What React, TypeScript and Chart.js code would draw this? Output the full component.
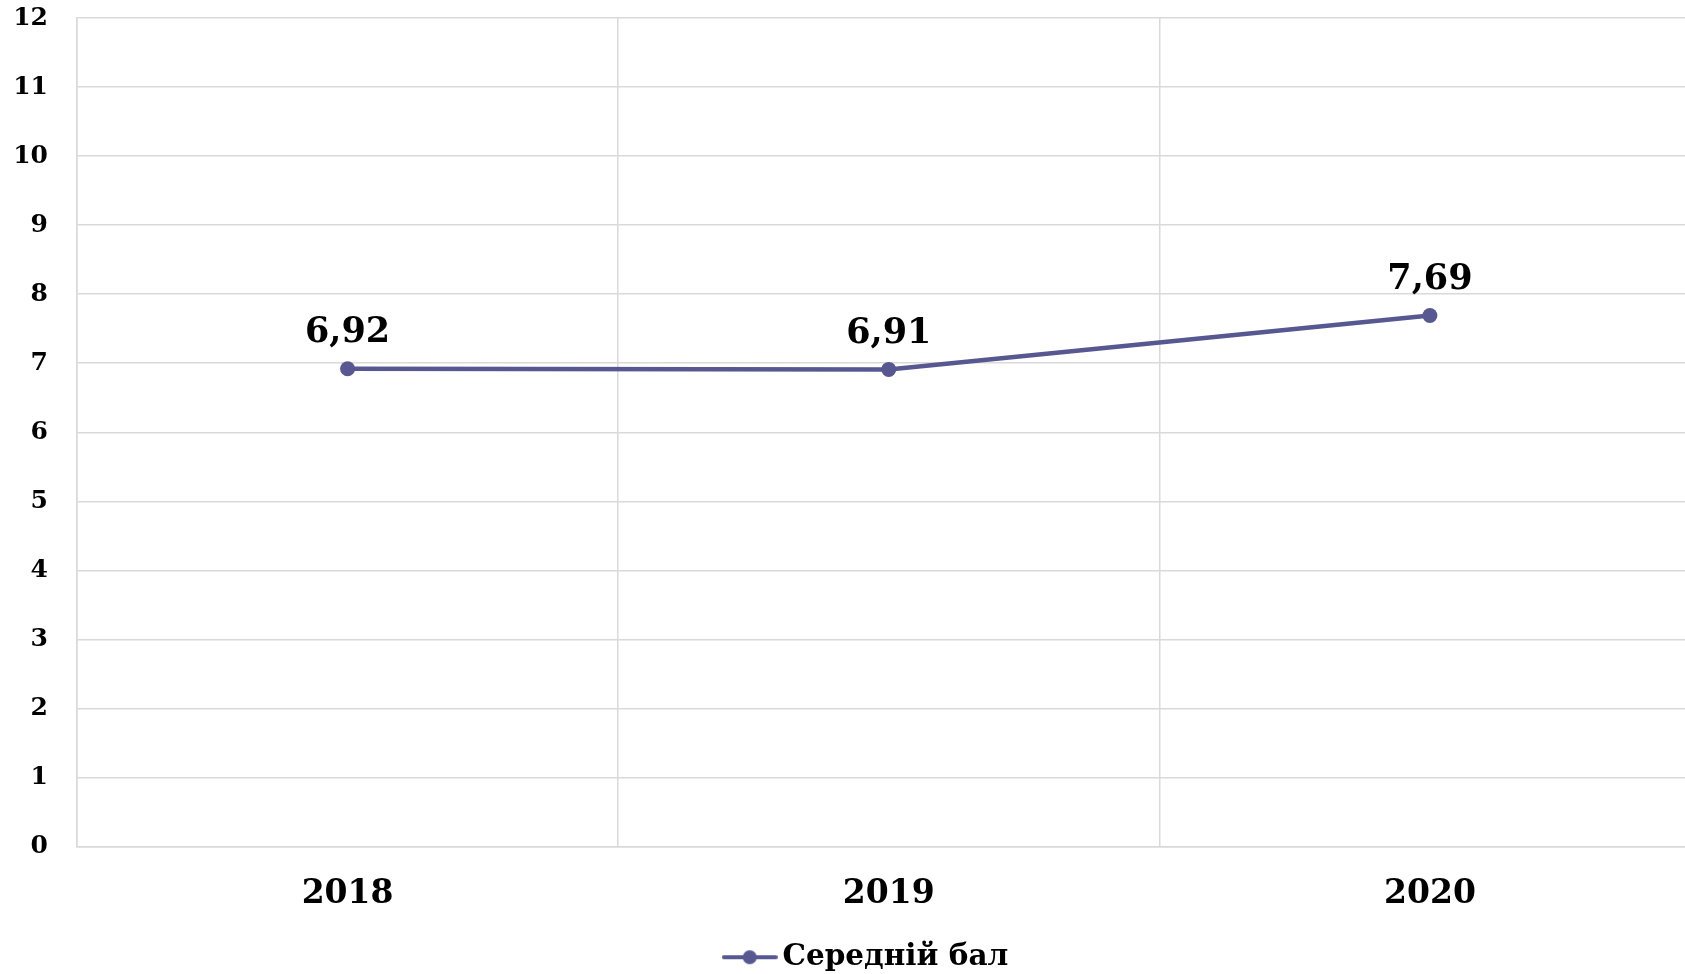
import React, { useEffect, useRef } from "react";
import { Chart, registerables } from "chart.js";

Chart.register(...registerables);

const categories = ["2018", "2019", "2020"];
const seriesName = "Середній бал";
const seriesValues = [6.92, 6.91, 7.69];
const yTicks = [0, 1, 2, 3, 4, 5, 6, 7, 8, 9, 10, 11, 12];

const LINE_COLOR = "#575792";
const GRID_COLOR = "#d9d9d9";
const FONT = "'DejaVu Serif', Georgia, serif";
const CANVAS_W = 1708;
const CANVAS_H = 982;

function makeLegendImage(): HTMLCanvasElement {
  const c = document.createElement("canvas");
  c.width = 56;
  c.height = 16;
  const ctx = c.getContext("2d")!;
  ctx.strokeStyle = LINE_COLOR;
  ctx.lineWidth = 4;
  ctx.lineCap = "round";
  ctx.beginPath();
  ctx.moveTo(2, 8);
  ctx.lineTo(54, 8);
  ctx.stroke();
  ctx.fillStyle = LINE_COLOR;
  ctx.beginPath();
  ctx.arc(28, 8, 7, 0, Math.PI * 2);
  ctx.fill();
  return c;
}

const dataLabelPlugin = {
  id: "dataLabels",
  afterDatasetsDraw(chart: any) {
    const ctx = chart.ctx;
    chart.data.datasets.forEach((ds: any, i: number) => {
      const meta = chart.getDatasetMeta(i);
      meta.data.forEach((pt: any, j: number) => {
        const v = ds.data[j] as number;
        ctx.save();
        ctx.font = `bold 35px ${FONT}`;
        ctx.fillStyle = "#000";
        ctx.textAlign = "center";
        ctx.textBaseline = "middle";
        ctx.fillText(v.toFixed(2).replace(".", ","), pt.x, pt.y - 36);
        ctx.restore();
      });
    });
  },
};

const legendShiftPlugin = {
  id: "legendShift",
  afterLayout(chart: any) {
    const lg = chart.legend;
    if (lg) {
      lg.left += 16;
      lg.right += 16;
    }
  },
};

export default function App() {
  const ref = useRef<HTMLCanvasElement | null>(null);
  useEffect(() => {
    document.documentElement.style.overflow = "hidden";
    document.body.style.overflow = "hidden";
    document.body.style.margin = "0";
    const legendImg = makeLegendImage();
    const chart = new Chart(ref.current!, {
      type: "line",
      data: {
        labels: categories,
        datasets: [
          {
            label: seriesName,
            data: seriesValues,
            borderColor: LINE_COLOR,
            backgroundColor: LINE_COLOR,
            borderWidth: 4.5,
            pointRadius: 7.5,
            pointBorderWidth: 0,
            pointBackgroundColor: LINE_COLOR,
            pointStyle: "circle",
            tension: 0,
          },
        ],
      },
      options: {
        responsive: false,
        animation: false,
        devicePixelRatio: 1,
        layout: { padding: { top: 18, left: 0, right: 0, bottom: 0 } },
        scales: {
          x: {
            type: "category",
            offset: true,
            grid: { color: GRID_COLOR, lineWidth: 1.5, offset: true, drawTicks: false },
            border: { color: GRID_COLOR, width: 1.5 },
            ticks: {
              color: "#000",
              font: { family: FONT, size: 33, weight: "bold" },
              padding: 28,
              maxRotation: 0,
            },
            afterFit: (s: any) => {
              s.height = 86;
              s.paddingLeft = 0;
              s.paddingRight = 0;
            },
          },
          y: {
            min: 0,
            max: 12,
            afterBuildTicks: (s: any) => {
              s.ticks = yTicks.map((v) => ({ value: v }));
            },
            grid: { color: GRID_COLOR, lineWidth: 1.5, drawTicks: false },
            border: { color: GRID_COLOR, width: 1.5 },
            ticks: {
              color: "#000",
              font: { family: FONT, size: 25, weight: "bold" },
              padding: 29,
            },
            afterFit: (s: any) => {
              s.width = 77;
              s.paddingTop = 0;
              s.paddingBottom = 0;
            },
          },
        },
        plugins: {
          legend: {
            position: "bottom",
            labels: {
              usePointStyle: true,
              pointStyleWidth: 36,
              color: "#000",
              font: { family: FONT, size: 29.5, weight: "bold" },
              padding: 10,
              generateLabels: (c: any) =>
                c.data.datasets.map((ds: any, i: number) => ({
                  text: ds.label,
                  pointStyle: legendImg,
                  fillStyle: LINE_COLOR,
                  strokeStyle: LINE_COLOR,
                  lineWidth: 0,
                  datasetIndex: i,
                  hidden: false,
                  fontColor: "#000",
                })),
            },
          },
          tooltip: { enabled: false },
        },
      },
      plugins: [dataLabelPlugin, legendShiftPlugin],
    });
    return () => chart.destroy();
  }, []);
  return (
    <div style={{ position: "absolute", left: 0, top: 0, width: CANVAS_W, height: CANVAS_H }}>
      <canvas ref={ref} width={CANVAS_W} height={CANVAS_H} />
    </div>
  );
}
